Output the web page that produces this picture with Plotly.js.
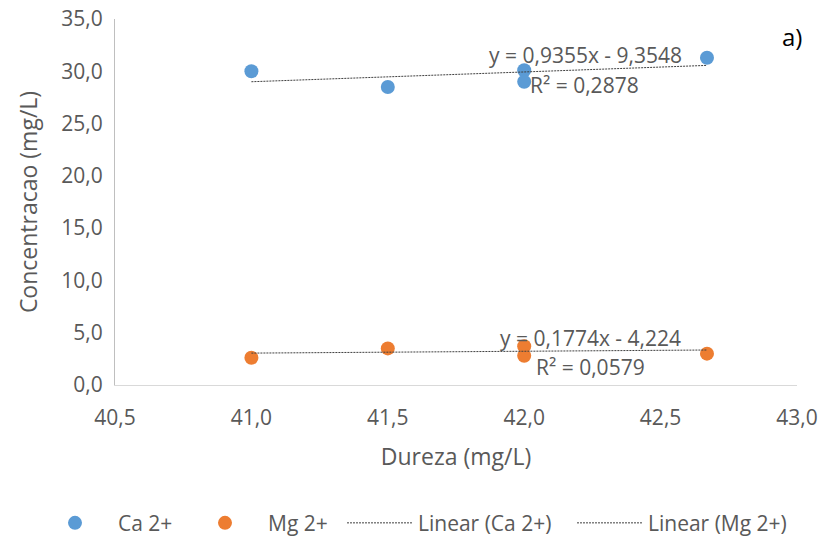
<!DOCTYPE html>
<html>
<head>
<meta charset="utf-8">
<script src="https://cdn.plot.ly/plotly-3.0.1.min.js"></script>
<style>html,body{margin:0;padding:0;background:#fff;}#chart{width:821px;height:545px;}</style>
</head>
<body>
<div id="chart"></div>
<script>
// Data
const dureza = [41.0, 41.5, 42.0, 42.0, 42.67];
const ca = [30.0, 28.5, 30.1, 29.0, 31.3];
const mg = [2.6, 3.5, 3.7, 2.8, 3.0];
const caFit = {slope: 0.9355, intercept: -9.3548};
const mgFit = {slope: 0.1774, intercept: -4.224};
const caEqText = "y = 0,9355x - 9,3548";
const caR2Text = "R² = 0,2878";
const mgEqText = "y = 0,1774x - 4,224";
const mgR2Text = "R² = 0,0579";
const seriesNames = ["Ca 2+", "Mg 2+", "Linear (Ca 2+)", "Linear (Mg 2+)"];

const xMin = Math.min(...dureza), xMax = Math.max(...dureza);
const fitX = [xMin, xMax];
const caFitY = fitX.map(x => caFit.slope * x + caFit.intercept);
const mgFitY = fitX.map(x => mgFit.slope * x + mgFit.intercept);

const font = "Open Sans, Noto Sans, sans-serif";
const grey = "#595959";
const trendLine = {color: "#404040", width: 1, dash: "2px,1px"};

const traces = [
  {x: dureza, y: ca, name: seriesNames[0], type: "scatter", mode: "markers", legend: "legend",
   marker: {color: "#5B9BD5", size: 14}},
  {x: dureza, y: mg, name: seriesNames[1], type: "scatter", mode: "markers", legend: "legend2",
   marker: {color: "#ED7D31", size: 14}},
  {x: fitX, y: caFitY, name: seriesNames[2], type: "scatter", mode: "lines", legend: "legend3", line: trendLine},
  {x: fitX, y: mgFitY, name: seriesNames[3], type: "scatter", mode: "lines", legend: "legend4", line: trendLine}
];

const W = 821, H = 545;
function legendAt(px, itemwidth) {
  return {
    orientation: "h", x: px / W, xanchor: "left", xref: "container",
    y: 0.04, yanchor: "middle", yref: "container",
    font: {family: font, size: 21, color: grey}, itemwidth: itemwidth,
    bgcolor: "rgba(0,0,0,0)"
  };
}

const annFont = {family: font, size: 21, color: grey};
const margin = {l: 114.5, r: 24, t: 19, b: 160};
const pw = W - margin.l - margin.r, ph = H - margin.t - margin.b;
const layout = {
  width: W, height: H,
  margin: margin,
  paper_bgcolor: "#fff", plot_bgcolor: "#fff",
  separators: ",.",
  font: {family: font, color: grey, size: 21},
  xaxis: {
    range: [40.5, 43.0], dtick: 0.5, tick0: 40.5, tickformat: ".1f",
    showgrid: false, zeroline: false, showline: true, linecolor: "#D9D9D9", linewidth: 1,
    ticks: "", ticklabelstandoff: 14,
    tickfont: {family: font, size: 21, color: grey},
    title: {text: "Dureza (mg/L)", font: {family: font, size: 23, color: grey}, standoff: 18}
  },
  yaxis: {
    range: [0, 35], dtick: 5, tickformat: ".1f",
    showgrid: false, zeroline: false, showline: true, linecolor: "#BFBFBF", linewidth: 1,
    ticks: "", ticklabelstandoff: 7,
    tickfont: {family: font, size: 21, color: grey},
    title: {text: "Concentracao (mg/L)", font: {family: font, size: 23, color: grey}, standoff: 17}
  },
  legend: legendAt(32, 76),
  legend2: legendAt(182, 76),
  legend3: legendAt(342, 66),
  legend4: legendAt(572, 66),
  annotations: [
    {x: 42.223, y: 31.56, xref: "x", yref: "y", text: caEqText, showarrow: false, font: annFont},
    {x: 42.22, y: 28.69, xref: "x", yref: "y", text: caR2Text, showarrow: false, font: annFont},
    {x: 42.242, y: 4.49, xref: "x", yref: "y", text: mgEqText, showarrow: false, font: annFont},
    {x: 42.242, y: 1.72, xref: "x", yref: "y", text: mgR2Text, showarrow: false, font: annFont},
    {x: (792 - margin.l) / pw, y: (H - margin.b - 36) / ph, xref: "paper", yref: "paper",
     xanchor: "center", yanchor: "middle", text: "a)", showarrow: false,
     font: {family: font, size: 24, color: "#000"}}
  ],
  showlegend: true
};
Plotly.newPlot("chart", traces, layout, {displayModeBar: false, staticPlot: true});
</script>
</body>
</html>
